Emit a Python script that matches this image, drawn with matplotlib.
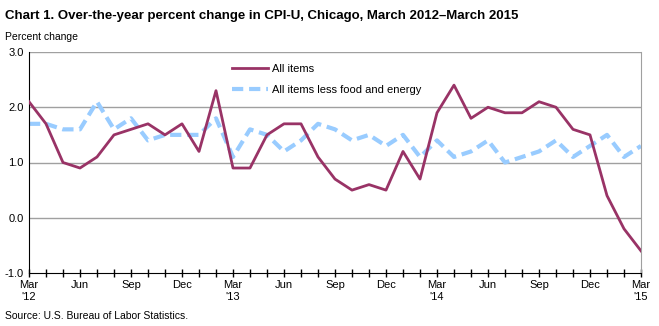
import numpy as np
import matplotlib.pyplot as plt

plt.rcParams['font.family'] = ['Liberation Sans', 'DejaVu Sans']

# monthly data, Mar 2012 - Mar 2015
all_items = [2.1, 1.7, 1.0, 0.9, 1.1, 1.5, 1.6, 1.7, 1.5, 1.7, 1.2, 2.3,
             0.9, 0.9, 1.5, 1.7, 1.7, 1.1, 0.7, 0.5, 0.6, 0.5, 1.2, 0.7,
             1.9, 2.4, 1.8, 2.0, 1.9, 1.9, 2.1, 2.0, 1.6, 1.5, 0.4, -0.2,
             -0.6]
core = [1.7, 1.7, 1.6, 1.6, 2.1, 1.6, 1.8, 1.4, 1.5, 1.5, 1.5, 1.8,
        1.1, 1.6, 1.5, 1.2, 1.4, 1.7, 1.6, 1.4, 1.5, 1.3, 1.5, 1.1,
        1.4, 1.1, 1.2, 1.4, 1.0, 1.1, 1.2, 1.4, 1.1, 1.3, 1.5, 1.1,
        1.3]
tick_labels = ["Mar\n'12", "Jun", "Sep", "Dec", "Mar\n'13", "Jun", "Sep", "Dec",
               "Mar\n'14", "Jun", "Sep", "Dec", "Mar\n'15"]
yticks = [-1.0, 0.0, 1.0, 2.0, 3.0]

x = np.arange(len(all_items))

fig = plt.figure(figsize=(6.59, 3.26), dpi=100)
ax = fig.add_axes([29/659, 1-273/326, (641-29)/659, (273-52)/326])

for yv in yticks[1:]:
    ax.axhline(yv, color='#a0a0a0', lw=1, zorder=1)

ax.plot(x, all_items, color='#993366', lw=2, label='All items', zorder=3)
ax.plot(x, core, color='#99ccff', lw=3, dashes=(2.7, 1.4), label='All items less food and energy', zorder=2)

ax.set_xlim(0, len(x)-1)
ax.set_ylim(-1, 3)
ax.set_yticks(yticks)
ax.set_yticklabels(['%.1f' % v for v in yticks], fontsize=8)
ax.set_xticks(x, minor=True)
ax.set_xticks(x[::3])
ax.set_xticklabels(tick_labels, fontsize=8)
ax.tick_params(axis='y', length=0, pad=4)
ax.tick_params(axis='x', which='both', direction='inout', length=6, width=1, pad=2)

ax.spines['top'].set_visible(False)
ax.spines['right'].set_color('#a0a0a0')
ax.spines['left'].set_color('black')
ax.spines['bottom'].set_color('black')

leg = ax.legend(loc='upper left', bbox_to_anchor=(0.316, 0.99), frameon=False,
                fontsize=8, handlelength=3.2, labelspacing=1.0, handletextpad=0.35)

fig.text(5/659, 1-16/326, 'Chart 1. Over-the-year percent change in CPI-U, Chicago, March 2012\u2013March 2015',
         fontsize=9.5, fontweight='bold', va='center', ha='left')
fig.text(5/659, 1-37/326, 'Percent change', fontsize=7.5, va='center', ha='left')
fig.text(5/659, 1-316/326, 'Source: U.S. Bureau of Labor Statistics.', fontsize=7.5, va='center', ha='left')

fig.savefig('out.png', dpi=100)
